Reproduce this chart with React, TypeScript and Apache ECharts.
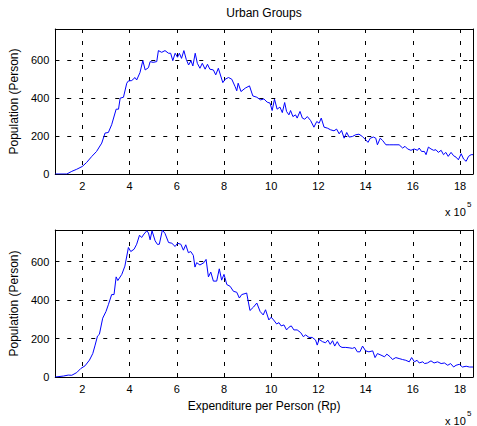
import React, { useEffect, useRef } from "react";
import * as echarts from "echarts";

const topX = [0.85,1.34,1.55,1.76,2.0,2.18,2.4,2.6,2.82,2.96,3.1,3.24,3.43,3.53,3.6,3.74,3.88,3.95,4.09,4.23,4.3,4.44,4.56,4.66,4.8,4.87,5.0,5.15,5.22,5.36,5.5,5.65,5.74,5.83,5.93,6.03,6.11,6.2,6.3,6.4,6.5,6.6,6.68,6.78,6.87,6.98,7.08,7.2,7.3,7.4,7.55,7.65,7.76,7.95,8.05,8.19,8.33,8.47,8.54,8.6,8.72,8.9,9.08,9.22,9.39,9.55,9.69,9.83,9.95,10.04,10.14,10.25,10.37,10.47,10.57,10.65,10.75,10.82,10.92,11.03,11.1,11.22,11.32,11.42,11.53,11.67,11.81,11.93,12.03,12.12,12.24,12.38,12.52,12.66,12.77,12.88,12.98,13.09,13.2,13.3,13.44,13.58,13.72,13.86,14.0,14.1,14.2,14.33,14.43,14.5,14.62,14.72,14.86,15.0,15.2,15.42,15.57,15.67,15.78,15.92,16.06,16.2,16.27,16.37,16.49,16.56,16.66,16.77,16.88,16.98,17.08,17.2,17.3,17.4,17.5,17.62,17.73,17.83,17.93,18.05,18.15,18.26,18.36,18.47,18.55];
const topY = [0,0,14,25,40,61,93,119,163,216,219,260,342,342,400,405,479,491,493,509,496,535,598,549,561,593,589,593,651,642,651,637,637,598,637,616,637,610,651,605,575,598,570,637,584,558,584,553,579,553,549,523,558,482,500,509,500,461,439,479,435,453,465,412,405,391,396,379,374,335,395,342,353,324,377,330,312,335,303,312,295,330,295,289,303,282,247,277,268,295,247,242,233,228,237,212,230,189,219,195,198,207,210,198,181,167,189,195,189,154,189,177,154,154,154,154,137,146,132,125,132,125,137,119,119,102,142,132,125,128,114,125,102,114,93,114,96,89,75,107,79,67,93,102,102];

const botX = [0.85,1.2,1.4,1.55,1.76,1.93,2.11,2.3,2.44,2.54,2.64,2.72,2.86,3.0,3.1,3.24,3.34,3.43,3.5,3.67,3.8,3.95,4.05,4.19,4.3,4.42,4.51,4.61,4.73,4.8,4.87,4.95,5.08,5.18,5.26,5.39,5.5,5.65,5.79,5.93,6.03,6.17,6.28,6.38,6.49,6.59,6.7,6.77,6.84,6.98,7.15,7.24,7.34,7.44,7.55,7.69,7.8,7.9,8.0,8.12,8.26,8.4,8.54,8.65,8.75,8.89,8.96,9.1,9.25,9.39,9.53,9.66,9.76,9.9,10.0,10.1,10.23,10.33,10.42,10.54,10.65,10.75,10.85,10.96,11.1,11.25,11.36,11.46,11.6,11.74,11.88,11.95,12.03,12.17,12.3,12.4,12.5,12.6,12.69,12.8,12.9,13.0,13.16,13.3,13.44,13.54,13.65,13.76,13.87,14.0,14.14,14.3,14.4,14.5,14.65,14.8,14.9,15.04,15.14,15.28,15.42,15.56,15.7,15.85,15.95,16.07,16.18,16.27,16.42,16.5,16.62,16.77,16.9,17.05,17.2,17.34,17.48,17.6,17.73,17.83,17.97,18.1,18.26,18.4,18.55];
const botY = [0,5,10,9,23,44,58,88,122,166,213,222,306,341,376,429,429,521,502,534,577,674,653,665,691,738,726,744,761,749,714,761,709,690,691,765,747,700,696,679,696,691,660,688,647,653,633,572,595,583,595,612,521,546,499,499,563,504,534,481,472,446,441,411,429,434,437,346,364,385,341,323,350,297,311,297,276,283,266,271,245,259,266,245,245,231,210,219,206,206,192,166,196,184,178,192,170,189,161,184,161,154,154,152,149,154,131,131,161,136,131,136,101,122,114,105,119,105,91,101,96,91,87,79,101,79,87,73,79,70,73,84,73,79,70,73,61,70,52,61,66,52,56,52,52];

const xTickStep = 2;
const yTickStep = 200;
const xRange = [0.85, 18.55];
const yRange = [0, 765];

const FONT = "'Liberation Sans', Arial, sans-serif";

function makeAxes(gi: number, showName: boolean) {
  const line = { show: true, onZero: false, lineStyle: { color: "#000", width: 1 } };
  const tick = { show: true, inside: true, length: 4, lineStyle: { color: "#000" } };
  const dash = { show: true, lineStyle: { color: "#000", width: 1, type: [4, 8] as any } };
  const xa = [
    {
      gridIndex: gi, type: "value", position: "bottom", min: xRange[0], max: xRange[1],
      minInterval: xTickStep, maxInterval: xTickStep, splitNumber: 9,
      axisLine: line, axisTick: tick, splitLine: dash,
      axisLabel: { color: "#000", fontSize: 11, fontFamily: FONT, margin: 6, showMinLabel: false, showMaxLabel: false },
      name: showName ? "Expenditure per Person (Rp)" : "", nameLocation: "middle", nameGap: 23,
      nameTextStyle: { color: "#000", fontSize: 12, fontFamily: FONT },
    },
    {
      gridIndex: gi, type: "value", position: "top", min: xRange[0], max: xRange[1],
      minInterval: xTickStep, maxInterval: xTickStep, splitNumber: 9,
      axisLine: line, axisTick: tick, splitLine: { show: false }, axisLabel: { show: false },
    },
  ];
  const ya = [
    {
      gridIndex: gi, type: "value", position: "left", min: yRange[0], max: yRange[1], interval: yTickStep,
      axisLine: line, axisTick: tick, splitLine: dash,
      axisLabel: { color: "#000", fontSize: 11, fontFamily: FONT, margin: 6, showMaxLabel: false },
      name: "Population (Person)", nameLocation: "middle", nameGap: 33,
      nameTextStyle: { color: "#000", fontSize: 12, fontFamily: FONT },
    },
    {
      gridIndex: gi, type: "value", position: "right", min: yRange[0], max: yRange[1], interval: yTickStep,
      axisLine: line, axisTick: tick, splitLine: { show: false }, axisLabel: { show: false },
    },
  ];
  return { xa, ya };
}

export default function App() {
  const ref = useRef<HTMLDivElement>(null);
  useEffect(() => {
    document.body.style.margin = "0";
    const chart = echarts.init(ref.current!, null, { renderer: "svg" });
    const a0 = makeAxes(0, false);
    const a1 = makeAxes(1, true);
    chart.setOption({
      animation: false,
      backgroundColor: "#fff",
      grid: [
        { left: 55, width: 418, top: 29, height: 145 },
        { left: 55, width: 418, top: 230, height: 147 },
      ],
      xAxis: [...a0.xa, ...a1.xa],
      yAxis: [...a0.ya, ...a1.ya],
      series: [
        {
          type: "line", xAxisIndex: 0, yAxisIndex: 0, showSymbol: false, symbol: "none",
          lineStyle: { color: "#0000ff", width: 1 }, itemStyle: { color: "#0000ff" },
          data: topX.map((x, i) => [x, topY[i]]),
        },
        {
          type: "line", xAxisIndex: 2, yAxisIndex: 2, showSymbol: false, symbol: "none",
          lineStyle: { color: "#0000ff", width: 1 }, itemStyle: { color: "#0000ff" },
          data: botX.map((x, i) => [x, botY[i]]),
        },
      ],
      graphic: [
        { type: "text", x: 264, y: 13, style: { text: "Urban Groups", fill: "#000", font: `12px ${FONT}`, textAlign: "center", textVerticalAlign: "middle" } },
        { type: "text", x: 445, y: 212, style: { text: "x 10", fill: "#000", font: `11px ${FONT}`, textAlign: "left", textVerticalAlign: "middle" } },
        { type: "text", x: 467, y: 204, style: { text: "5", fill: "#000", font: `8px ${FONT}`, textAlign: "left", textVerticalAlign: "middle" } },
        { type: "text", x: 445, y: 421, style: { text: "x 10", fill: "#000", font: `11px ${FONT}`, textAlign: "left", textVerticalAlign: "middle" } },
        { type: "text", x: 467, y: 413, style: { text: "5", fill: "#000", font: `8px ${FONT}`, textAlign: "left", textVerticalAlign: "middle" } },
      ],
    });
    return () => chart.dispose();
  }, []);
  return <div ref={ref} style={{ width: 477, height: 426 }} />;
}
